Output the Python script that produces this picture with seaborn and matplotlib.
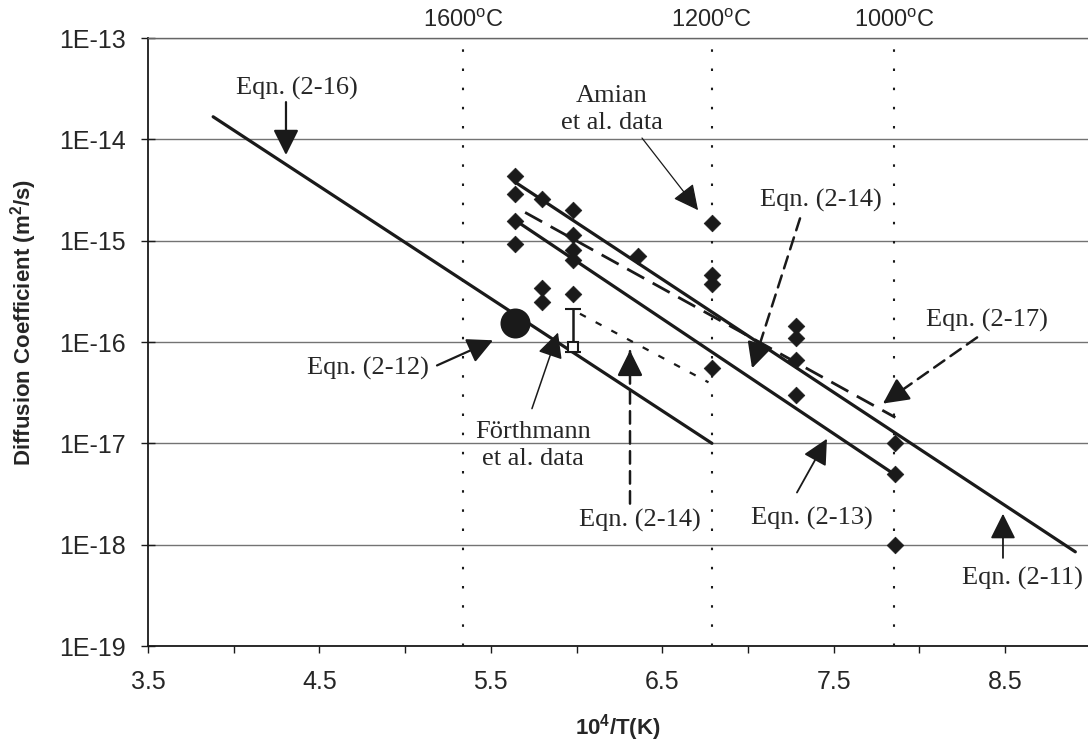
import numpy as np
import pandas as pd
import seaborn as sns
import matplotlib.pyplot as plt
from matplotlib.transforms import blended_transform_factory

# Amian et al. data points (diamonds)
amian_x = [5.64, 5.64, 5.64, 5.64, 5.80, 5.80, 5.80,
           5.98, 5.98, 5.98, 5.98, 5.98, 6.36,
           6.79, 6.79, 6.79, 6.79, 7.28, 7.28, 7.28, 7.28,
           7.86, 7.86, 7.86]
amian_y = [4.3e-15, 2.9e-15, 1.55e-15, 9.2e-16, 2.55e-15, 3.4e-16, 2.5e-16,
           2.0e-15, 1.13e-15, 8.0e-16, 6.4e-16, 2.95e-16, 7.0e-16,
           1.5e-15, 4.6e-16, 3.7e-16, 5.6e-17, 1.45e-16, 1.1e-16, 6.6e-17, 3.0e-17,
           1.0e-17, 5.0e-18, 1.0e-18]

# single points
circle_x = [5.64]
circle_y = [1.53e-16]
forth_x = [5.98]
forth_y = [9.0e-17]
forth_err_lo = [1.0e-17]
forth_err_hi = [1.2e-16]

# equation lines (end points)
eqn16_x = [3.88, 6.79]
eqn16_y = [1.67e-14, 1.0e-17]
eqn11_x = [5.64, 8.91]
eqn11_y = [3.8e-15, 8.5e-19]
eqn13_x = [5.64, 7.85]
eqn13_y = [1.6e-15, 5.0e-18]
eqn17_x = [5.70, 7.86]
eqn17_y = [1.9e-15, 1.8e-17]
eqn14_x = [6.02, 6.77]
eqn14_y = [1.9e-16, 4.0e-17]

# temperature markers
temp_x = [5.339, 6.789, 7.855]
temp_labels = ["1600$^\\mathregular{o}$C", "1200$^\\mathregular{o}$C", "1000$^\\mathregular{o}$C"]

yticks = [1e-19, 1e-18, 1e-17, 1e-16, 1e-15, 1e-14, 1e-13]
ytick_labels = ["1E-19", "1E-18", "1E-17", "1E-16", "1E-15", "1E-14", "1E-13"]
xticks = [3.5, 4.5, 5.5, 6.5, 7.5, 8.5]
xtick_labels = ["3.5", "4.5", "5.5", "6.5", "7.5", "8.5"]

# annotations: text, text position, arrow tail, arrow tip, dashed?, line width
notes = [
    ("Eqn. (2-16)", (4.37, 3.2e-14), (4.305, 2.33e-14), (4.305, 7.0e-15), False, 1.6),
    ("Amian\net al. data", (6.207, 1.95e-14), (6.382, 1.03e-14), (6.709, 2.0e-15), False, 0.9),
    ("Eqn. (2-14)", (7.427, 2.5e-15), (7.304, 1.66e-15), (7.024, 5.5e-17), True, 1.8),
    ("Eqn. (2-17)", (8.395, 1.63e-16), (8.337, 1.11e-16), (7.788, 2.47e-17), True, 1.8),
    ("Eqn. (2-12)", (4.784, 5.5e-17), (5.186, 5.87e-17), (5.513, 1.04e-16), False, 1.6),
    ("Förthmann\net al. data", (5.746, 9.5e-18), (5.740, 2.2e-17), (5.892, 1.24e-16), False, 1.1),
    ("Eqn. (2-14)", (6.37, 1.73e-18), (6.312, 2.54e-18), (6.312, 8.26e-17), True, 1.8),
    ("Eqn. (2-13)", (7.374, 1.81e-18), (7.286, 3.27e-18), (7.461, 1.11e-17), False, 1.3),
    ("Eqn. (2-11)", (8.60, 4.6e-19), (8.488, 7.4e-19), (8.488, 2.02e-18), False, 1.3),
]

sns.set_theme(style="white")
plt.rcParams['font.family'] = ['Liberation Sans', 'DejaVu Sans']
serif = ['Liberation Serif', 'DejaVu Serif']

fig = plt.figure(figsize=(10.88, 7.48), dpi=100)
ax = fig.add_axes([148 / 1088, 1 - 646 / 748, 940 / 1088, 608 / 748])
ax.set_yscale('log')

# lines
sns.lineplot(x=eqn16_x, y=eqn16_y, ax=ax, color='k', lw=2.3)
sns.lineplot(x=eqn11_x, y=eqn11_y, ax=ax, color='k', lw=2.3)
sns.lineplot(x=eqn13_x, y=eqn13_y, ax=ax, color='k', lw=2.3)
sns.lineplot(x=eqn17_x, y=eqn17_y, ax=ax, color='k', lw=2.0, linestyle=(0, (7, 3.5)))
sns.lineplot(x=eqn14_x, y=eqn14_y, ax=ax, color='k', lw=1.6, linestyle=(0, (3, 5)))

# data points
sns.scatterplot(x=amian_x, y=amian_y, ax=ax, marker='D', s=72, color='k',
                edgecolor='k', linewidth=0.5, zorder=5)
sns.scatterplot(x=circle_x, y=circle_y, ax=ax, marker='o', s=400, color='k',
                edgecolor='k', zorder=5)
ax.errorbar(forth_x, forth_y, yerr=[forth_err_lo, forth_err_hi], fmt='s', ms=7,
            mfc='white', mec='k', mew=1.5, ecolor='k', elinewidth=1.8,
            capsize=6, capthick=1.8, zorder=6)

# temperature lines
trans = blended_transform_factory(ax.transData, ax.transAxes)
for xv, lab in zip(temp_x, temp_labels):
    ax.axvline(xv, color='k', lw=1.5, linestyle=(0, (1.2, 8)), zorder=1)
    ax.text(xv, 1.028, lab, transform=trans, ha='center', va='center', fontsize=17)

# annotations
head = '-|>,head_length=0.6,head_width=0.3'
for text, tpos, tail, tip, dashed, lw in notes:
    ax.text(tpos[0], tpos[1], text, ha='center', va='center', fontsize=19,
            family=serif, linespacing=1.3)
    if dashed:
        ax.annotate('', xy=tip, xytext=tail,
                    arrowprops=dict(arrowstyle='-', color='k', lw=lw,
                                    linestyle=(0, (5, 3)), shrinkA=0, shrinkB=0))
        near = (tip[0] + 0.12 * (tail[0] - tip[0]),
                tip[1] * (tail[1] / tip[1]) ** 0.12)
        ax.annotate('', xy=tip, xytext=near,
                    arrowprops=dict(arrowstyle=head, mutation_scale=26, color='k',
                                    lw=lw, shrinkA=0, shrinkB=0))
    else:
        ax.annotate('', xy=tip, xytext=tail,
                    arrowprops=dict(arrowstyle=head, mutation_scale=26, color='k',
                                    lw=lw, shrinkA=0, shrinkB=0))

ax.set_xlim(3.5, 8.984)
ax.set_ylim(1e-19, 1e-13)
ax.set_yticks(yticks)
ax.set_yticklabels(ytick_labels)
ax.yaxis.set_minor_locator(plt.NullLocator())
ax.set_xticks(xticks)
ax.set_xticklabels(xtick_labels)
ax.set_xticks([4.0, 5.0, 6.0, 7.0, 8.0], minor=True)
ax.tick_params(axis='y', which='major', direction='inout', length=10, width=1,
               labelsize=18, pad=11, left=True, color='k')
ax.tick_params(axis='x', which='both', direction='out', length=5, width=1,
               labelsize=18, pad=12, bottom=True, color='k')

ax.yaxis.grid(True, color='0.45', lw=1.0)
ax.xaxis.grid(False)

for side in ['left', 'bottom']:
    ax.spines[side].set_color('k')
    ax.spines[side].set_linewidth(1.3)
ax.spines['right'].set_visible(False)
ax.spines['top'].set_color('0.4')
ax.spines['top'].set_linestyle((0, (1, 1)))
ax.spines['top'].set_linewidth(1.0)

ax.set_xlabel("10$^\\mathregular{4}$/T(K)", fontsize=16, fontweight='bold')
ax.set_ylabel("Diffusion Coefficient (m$^\\mathregular{2}$/s)", fontsize=16, fontweight='bold')
ax.xaxis.set_label_coords(0.5, -0.108)
ax.yaxis.set_label_coords(-0.116, 0.533)

fig.savefig("out.png", dpi=100, facecolor='white')
